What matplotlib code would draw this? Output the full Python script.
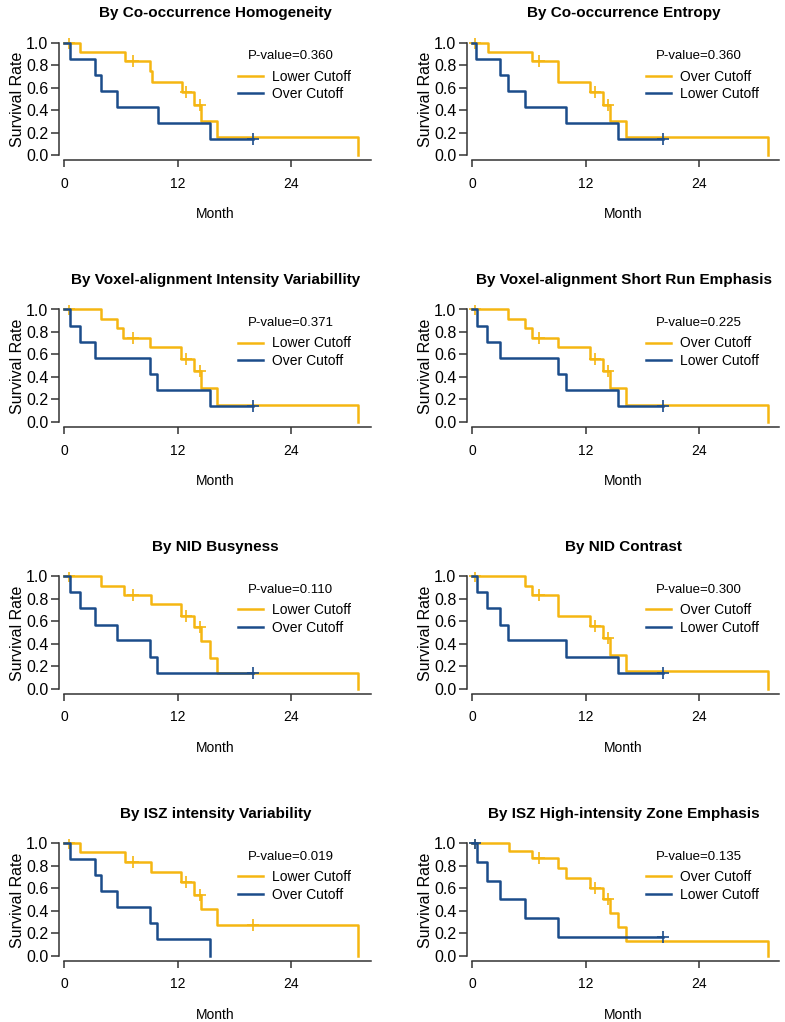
import matplotlib
matplotlib.use('Agg')
import matplotlib.pyplot as plt
import numpy as np

plt.rcParams['font.family'] = ['Liberation Sans', 'DejaVu Sans']

YELLOW = '#f5b612'
BLUE = '#1b4c8a'
AXIS = '#333333'

titles = [
    'By Co-occurrence Homogeneity', 'By Co-occurrence Entropy',
    'By Voxel-alignment Intensity Variabillity', 'By Voxel-alignment Short Run Emphasis',
    'By NID Busyness', 'By NID Contrast',
    'By ISZ intensity Variability', 'By ISZ High-intensity Zone Emphasis',
]
pvalues = ['0.360', '0.360', '0.371', '0.225', '0.110', '0.300', '0.019', '0.135']
yellow_names = ['Lower Cutoff', 'Over Cutoff'] * 4
blue_names = ['Over Cutoff', 'Lower Cutoff'] * 4

# yellow group: event times (months) and survival after each event
yellow_times = [
    [1.67, 6.4, 9.1, 9.25, 12.5, 13.7, 14.5, 16.15, 31.0],
    [1.66, 6.35, 9.07, 12.46, 13.84, 14.54, 16.3, 31.2],
    [3.94, 5.6, 6.28, 9.1, 12.4, 13.7, 14.5, 16.15, 31.0],
    [3.81, 5.54, 6.28, 9.07, 12.46, 13.84, 14.54, 16.3, 31.2],
    [3.94, 6.3, 9.17, 12.4, 13.7, 14.5, 15.4, 16.15, 31.0],
    [5.54, 6.28, 9.07, 12.46, 13.84, 14.54, 16.3, 31.2],
    [1.67, 6.4, 9.17, 12.4, 13.7, 14.5, 16.15, 31.0],
    [3.88, 6.35, 9.07, 9.88, 12.46, 13.84, 14.54, 15.46, 16.3, 31.2],
]
yellow_surv = [
    [0.917, 0.833, 0.75, 0.65, 0.56, 0.45, 0.30, 0.16, 0.0],
    [0.917, 0.833, 0.65, 0.56, 0.45, 0.30, 0.16, 0.0],
    [0.917, 0.833, 0.75, 0.667, 0.56, 0.45, 0.30, 0.15, 0.0],
    [0.917, 0.833, 0.75, 0.667, 0.56, 0.45, 0.30, 0.15, 0.0],
    [0.917, 0.833, 0.75, 0.65, 0.55, 0.42, 0.27, 0.14, 0.0],
    [0.917, 0.833, 0.65, 0.56, 0.45, 0.30, 0.16, 0.0],
    [0.917, 0.833, 0.74, 0.65, 0.54, 0.41, 0.27, 0.0],
    [0.933, 0.867, 0.78, 0.69, 0.60, 0.50, 0.375, 0.25, 0.125, 0.0],
]
yellow_censor = [
    [0.5, 7.3, 12.9, 14.4],
    [0.35, 7.1, 12.95, 14.4],
    [0.5, 7.25, 12.85, 14.4],
    [0.35, 7.05, 12.95, 14.4],
    [0.5, 7.25, 12.85, 14.4],
    [0.35, 7.1, 12.95, 14.4],
    [0.5, 7.25, 12.85, 14.4, 20.0],
    [0.35, 7.1, 12.95, 14.4],
]

# blue group
blue_times = [
    [0.63, 3.24, 3.94, 5.6, 9.94, 15.4],
    [0.42, 3.0, 3.8, 5.58, 9.88, 15.46],
    [0.63, 1.67, 3.24, 9.1, 9.87, 15.4],
    [0.53, 1.59, 3.0, 9.07, 9.88, 15.46],
    [0.63, 1.67, 3.24, 5.6, 9.1, 9.87],
    [0.53, 1.59, 3.0, 3.81, 9.88, 15.46],
    [0.63, 3.24, 3.94, 5.6, 9.1, 9.87, 15.45],
    [0.53, 1.59, 3.0, 5.58, 9.07],
]
blue_surv = [
    [0.857, 0.714, 0.571, 0.429, 0.286, 0.143],
    [0.857, 0.714, 0.571, 0.429, 0.286, 0.143],
    [0.857, 0.714, 0.571, 0.429, 0.286, 0.143],
    [0.857, 0.714, 0.571, 0.429, 0.286, 0.143],
    [0.857, 0.714, 0.571, 0.429, 0.286, 0.143],
    [0.857, 0.714, 0.571, 0.429, 0.286, 0.143],
    [0.857, 0.714, 0.571, 0.429, 0.286, 0.143, 0.0],
    [0.833, 0.667, 0.5, 0.333, 0.167],
]
blue_end = [20.0, 20.2, 20.0, 20.2, 20.0, 20.2, 15.45, 20.2]
blue_censor = [[20.0], [20.2], [20.0], [20.2], [20.0], [20.2], [], [0.35, 20.2]]

xticks = [0, 12, 24]
yticks = [0.0, 0.2, 0.4, 0.6, 0.8, 1.0]


def surv_at(times, surv, t):
    idx = np.searchsorted(times, t, side='right')
    return ([1.0] + list(surv))[idx]


W, H = 785, 1022
fig = plt.figure(figsize=(W / 100, H / 100), dpi=100)

col_left = [54.5, 462.6]
ax_w = 322
unit_h = 112.4
ax_h = unit_h * 1.09

for i in range(8):
    r, c = divmod(i, 2)
    top = 42.7 + 266.8 * r - 0.04 * unit_h
    ax = fig.add_axes([col_left[c] / W, 1 - (top + ax_h) / H, ax_w / W, ax_h / H])

    yt = [0] + yellow_times[i]
    ys = [1.0] + yellow_surv[i]
    ax.step(yt, ys, where='post', color=YELLOW, lw=1.8, label=yellow_names[i])
    yc = yellow_censor[i]
    ax.plot(yc, [surv_at(yellow_times[i], yellow_surv[i], t) for t in yc], ls='none',
            marker='+', ms=8, mew=1.2, color=YELLOW)

    bt = [0] + blue_times[i] + [blue_end[i]]
    bs = [1.0] + blue_surv[i] + [blue_surv[i][-1]]
    ax.step(bt, bs, where='post', color=BLUE, lw=1.8, label=blue_names[i])
    bc = blue_censor[i]
    ax.plot(bc, [surv_at(blue_times[i], blue_surv[i], t) for t in bc], ls='none',
            marker='+', ms=8, mew=1.2, color=BLUE)

    ax.set_xlim(-1, 33)
    ax.set_ylim(-0.05, 1.04)
    for s in ['top', 'right']:
        ax.spines[s].set_visible(False)
    ax.spines['left'].set_position(('data', -0.55))
    ax.spines['left'].set_bounds(0, 1)
    ax.spines['bottom'].set_position(('data', -0.045))
    ax.spines['bottom'].set_bounds(0, 32.4)
    for s in ['left', 'bottom']:
        ax.spines[s].set_color(AXIS)
        ax.spines[s].set_linewidth(1.1)
    ax.set_xticks(xticks)
    ax.set_yticks(yticks)
    ax.set_yticklabels(['%.1f' % v for v in yticks])
    ax.tick_params(axis='y', length=6, width=1.1, color=AXIS, pad=1.5, labelsize=11.5)
    ax.tick_params(axis='x', length=5, width=1.1, color=AXIS, pad=7, labelsize=10)

    ax.set_title(titles[i], fontsize=11, fontweight='bold', pad=15)
    ax.set_xlabel('Month', fontsize=10, labelpad=12)
    ax.set_ylabel('Survival Rate', fontsize=11.5, labelpad=1)

    ax.text(19.4, 0.88, 'P-value=' + pvalues[i], fontsize=9.5, va='center', ha='left')
    ax.legend(loc='center left', bbox_to_anchor=(18.4, 0.62), bbox_transform=ax.transData,
              frameon=False, fontsize=10, handlelength=1.8, handletextpad=0.6,
              labelspacing=0.25, borderpad=0, borderaxespad=0)

fig.savefig('out.png', dpi=100)
